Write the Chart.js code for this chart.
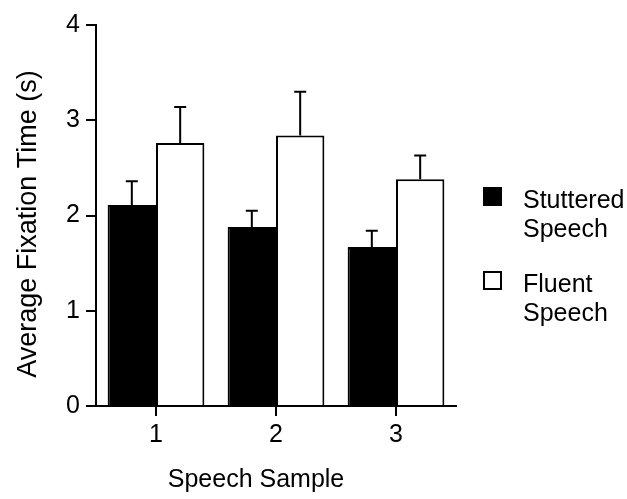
<!DOCTYPE html>
<html>
<head>
<meta charset="utf-8">
<script src="https://cdn.jsdelivr.net/npm/chart.js@4"></script>
<style>
  html, body { margin: 0; padding: 0; background: #fff; }
  #wrap { width: 627px; height: 499px; }
</style>
</head>
<body>
<div id="wrap"><canvas id="chart" width="627" height="499"></canvas></div>
<script>
// ================== DATA ==================
const categories = ['1', '2', '3'];
const stutteredLabel = ['Stuttered', 'Speech'];
const fluentLabel = ['Fluent', 'Speech'];
const stuttered = [2.11, 1.88, 1.67];
const stutteredErr = [0.25, 0.17, 0.17];
const fluent = [2.76, 2.84, 2.38];
const fluentErr = [0.38, 0.46, 0.25];
const yMin = 0, yMax = 4, yStep = 1;
const xTitle = 'Speech Sample';
const yTitle = 'Average Fixation Time (s)';

const FONT = '"Liberation Sans", Arial, Helvetica, sans-serif';

// ================== PLUGINS ==================
// upward-only error bars with a small cap
const errorBars = {
  id: 'errorBars',
  afterDatasetsDraw(chart) {
    const ctx = chart.ctx;
    const y = chart.scales.y;
    chart.data.datasets.forEach((ds, i) => {
      chart.getDatasetMeta(i).data.forEach((bar, j) => {
        const top = y.getPixelForValue(ds.data[j] + ds.errors[j]);
        ctx.save();
        ctx.strokeStyle = '#000';
        ctx.lineWidth = 2;
        ctx.beginPath();
        ctx.moveTo(bar.x, bar.y);
        ctx.lineTo(bar.x, top);
        ctx.moveTo(bar.x - 6, top);
        ctx.lineTo(bar.x + 6, top);
        ctx.stroke();
        ctx.restore();
      });
    });
  }
};

// axis titles + two-line legend on the right
const decorations = {
  id: 'decorations',
  afterDraw(chart) {
    const ctx = chart.ctx;
    ctx.save();
    ctx.fillStyle = '#000';

    // x title
    ctx.font = '25px ' + FONT;
    ctx.textAlign = 'center';
    ctx.textBaseline = 'alphabetic';
    ctx.fillText(xTitle, 256, 487);

    // y title
    ctx.save();
    ctx.translate(29, 224);
    ctx.rotate(-Math.PI / 2);
    ctx.font = '27px ' + FONT;
    ctx.textBaseline = 'middle';
    ctx.fillText(yTitle, 0, 0);
    ctx.restore();

    // legend
    ctx.font = '25px ' + FONT;
    ctx.textAlign = 'left';
    ctx.textBaseline = 'alphabetic';
    const rows = [[483, 187], [483, 271]];
    chart.data.datasets.forEach((ds, i) => {
      const [lx, ly] = rows[i];
      ctx.fillStyle = ds.backgroundColor;
      ctx.fillRect(lx + 1, ly + 1, 17, 17);
      ctx.strokeStyle = '#000';
      ctx.lineWidth = 2;
      ctx.strokeRect(lx + 1, ly + 1, 17, 17);
      ctx.fillStyle = '#000';
      ds.label.forEach((line, k) => {
        ctx.fillText(line, 523, ly + 21 + k * 29);
      });
    });
    ctx.restore();
  }
};

// ================== CHART ==================
new Chart(document.getElementById('chart'), {
  type: 'bar',
  data: {
    labels: categories,
    datasets: [
      {
        label: stutteredLabel,
        data: stuttered,
        errors: stutteredErr,
        backgroundColor: '#000',
        borderColor: '#000',
        borderWidth: 2
      },
      {
        label: fluentLabel,
        data: fluent,
        errors: fluentErr,
        backgroundColor: '#fff',
        borderColor: '#000',
        borderWidth: 2
      }
    ]
  },
  options: {
    responsive: false,
    animation: false,
    devicePixelRatio: 1,
    layout: { padding: { left: 0, right: 171, top: 25, bottom: 0 } },
    plugins: {
      legend: { display: false },
      tooltip: { enabled: false }
    },
    datasets: {
      bar: { categoryPercentage: 0.806, barPercentage: 1.0 }
    },
    scales: {
      x: {
        offset: true,
        grid: { offset: false, drawOnChartArea: false, drawTicks: true, tickLength: 10, color: '#000', lineWidth: 2 },
        border: { color: '#000', width: 2 },
        ticks: { color: '#000', font: { family: FONT, size: 25 }, padding: 4 },
        afterFit(scale) { scale.height = 93; }
      },
      y: {
        min: yMin,
        max: yMax,
        grid: { drawOnChartArea: false, drawTicks: true, tickLength: 10, color: '#000', lineWidth: 2 },
        border: { color: '#000', width: 2 },
        ticks: { stepSize: yStep, color: '#000', font: { family: FONT, size: 25 }, padding: 6 },
        afterFit(scale) { scale.width = 96; }
      }
    }
  },
  plugins: [errorBars, decorations]
});
</script>
</body>
</html>
